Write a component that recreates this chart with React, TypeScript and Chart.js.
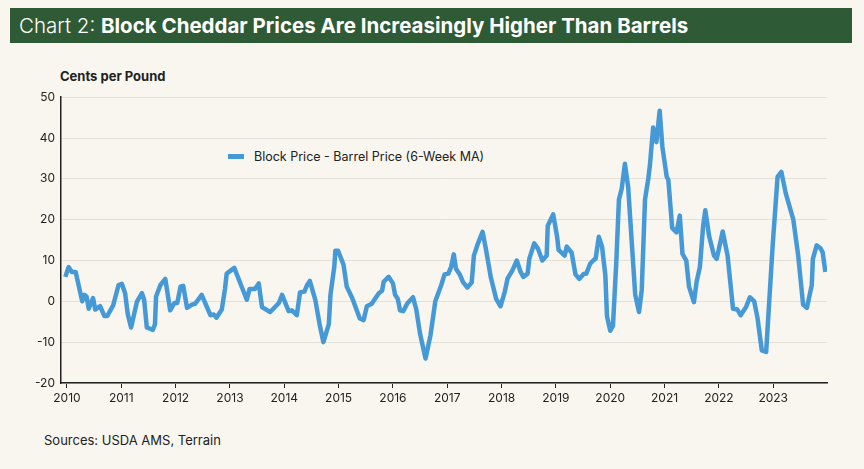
import React, { useEffect, useRef } from "react";
import { Chart, registerables } from "chart.js";
Chart.register(...registerables);

const dates = [2009.97,2010.03,2010.09,2010.16,2010.28,2010.32,2010.36,2010.4,2010.48,2010.52,2010.61,2010.69,2010.74,2010.85,2010.95,2011.01,2011.07,2011.12,2011.18,2011.29,2011.38,2011.42,2011.47,2011.58,2011.62,2011.64,2011.72,2011.81,2011.9,2011.98,2012.03,2012.09,2012.14,2012.21,2012.3,2012.36,2012.48,2012.64,2012.7,2012.75,2012.85,2012.91,2012.94,2013.08,2013.18,2013.31,2013.36,2013.46,2013.53,2013.59,2013.74,2013.9,2013.96,2014.08,2014.14,2014.23,2014.29,2014.37,2014.42,2014.47,2014.57,2014.65,2014.72,2014.82,2014.85,2014.92,2014.94,2014.99,2015.09,2015.15,2015.25,2015.39,2015.46,2015.52,2015.61,2015.64,2015.74,2015.8,2015.83,2015.92,2016.0,2016.04,2016.09,2016.13,2016.19,2016.27,2016.37,2016.43,2016.5,2016.6,2016.69,2016.78,2016.89,2016.95,2017.02,2017.07,2017.12,2017.16,2017.23,2017.29,2017.37,2017.45,2017.49,2017.56,2017.65,2017.71,2017.8,2017.9,2017.98,2018.06,2018.11,2018.2,2018.28,2018.35,2018.4,2018.48,2018.51,2018.6,2018.67,2018.75,2018.83,2018.85,2018.95,2019.02,2019.05,2019.16,2019.2,2019.29,2019.36,2019.43,2019.51,2019.56,2019.63,2019.7,2019.73,2019.79,2019.85,2019.91,2019.94,2020.0,2020.05,2020.11,2020.16,2020.21,2020.27,2020.33,2020.4,2020.46,2020.53,2020.58,2020.64,2020.7,2020.73,2020.79,2020.85,2020.91,2020.96,2021.04,2021.07,2021.14,2021.22,2021.28,2021.33,2021.4,2021.45,2021.54,2021.59,2021.65,2021.71,2021.75,2021.82,2021.91,2021.96,2022.07,2022.16,2022.26,2022.34,2022.4,2022.5,2022.57,2022.65,2022.71,2022.79,2022.87,2022.99,2023.08,2023.15,2023.23,2023.37,2023.46,2023.55,2023.62,2023.71,2023.73,2023.8,2023.87,2023.91,2023.96];
const spread = [6,8.4,7.2,7.2,0,1.6,1.2,-1.8,0.8,-2,-1.2,-3.6,-3.6,-1,4,4.3,2,-3.2,-6.4,0,2,0.4,-6.4,-7,-5.6,1.2,4,5.5,-2.2,-0.4,-0.4,3.6,3.8,-1.6,-0.8,-0.6,1.6,-3.4,-3.2,-4,-2,3.2,6.8,8.2,4.8,0.4,3,3,4.4,-1.4,-2.6,-0.4,1.6,-2.4,-2.2,-3.4,2.2,2.4,4,5,0.4,-5.6,-10,-5.6,1.6,8.4,12.4,12.4,9,3.6,0.8,-4.2,-4.6,-1.2,-0.6,0,2,2.6,4.8,6,4.4,1.6,0.6,-2.2,-2.4,-0.4,1,-2,-8,-14,-8.4,0,4,6.6,6.8,8.4,11.5,8,6.6,4.7,3.4,4.6,11.2,14,17,12.9,6,0.6,-1.2,2.4,5.6,7.6,10,7.2,6,6.8,10.4,14.2,12.9,10,11.2,18.5,21.3,16,12.6,11.2,13.4,11.9,6.6,5.5,6.7,6.8,9.2,10.2,10.4,15.8,13.3,6.4,-3.6,-7.2,-6,9.2,24.9,27.5,33.7,28,13.7,1.6,-2.6,2.8,24.9,30,33.3,42.6,39,46.7,37.8,30.5,29.7,18,16.9,21,11.6,10,3.6,-0.2,4.8,8.4,18.5,22.3,16,11.2,10.4,17.1,11.2,-1.8,-2,-3.4,-1.4,1,0,-4,-12,-12.4,13.7,30.5,31.7,26.5,20,11.2,-0.8,-1.6,4,10.4,13.7,13,12,7.2];
const yearTicks = [2010,2011,2012,2013,2014,2015,2016,2017,2018,2019,2020,2021,2022,2023];
const yTicks = [-20,-10,0,10,20,30,40,50];
const seriesLabel = "Block Price - Barrel Price (6-Week MA)";

const FONT = "Inter, 'Noto Sans', sans-serif";
const BLUE = "#4599d6";

export default function App() {
  const ref = useRef<HTMLCanvasElement>(null);
  useEffect(() => {
    const chart = new Chart(ref.current!, {
      type: "line",
      data: {
        datasets: [{
          label: seriesLabel,
          data: dates.map((d, i) => ({ x: d, y: spread[i] })),
          borderColor: BLUE,
          backgroundColor: BLUE,
          borderWidth: 4.5,
          pointRadius: 0,
          tension: 0,
          borderJoinStyle: "round",
        }],
      },
      options: {
        animation: false,
        responsive: false,
        layout: { padding: { top: 8, right: 37, left: 0, bottom: 0 } },
        plugins: { legend: { display: false }, tooltip: { enabled: false } },
        scales: {
          x: {
            type: "linear",
            min: 2009.89,
            max: 2023.99,
            afterBuildTicks: (s: any) => { s.ticks = yearTicks.map((v) => ({ value: v })); },
            afterFit: (s: any) => { s.height = 31; },
            ticks: { color: "#222", font: { family: FONT, size: 12 }, padding: 3, callback: (v: any) => String(v), maxRotation: 0, autoSkip: false },
            grid: { drawOnChartArea: false, drawTicks: true, tickLength: 5, color: "#222" },
            border: { color: "#222", width: 1.5 },
          },
          y: {
            min: -20,
            max: 50,
            afterBuildTicks: (s: any) => { s.ticks = yTicks.map((v) => ({ value: v })); },
            afterFit: (s: any) => { s.width = 61; },
            ticks: { color: "#222", font: { family: FONT, size: 12 }, padding: 6 },
            grid: { color: "#e3e0d8", drawTicks: false, lineWidth: 1 },
            border: { color: "#222", width: 1.5 },
          },
        },
      },
    });
    return () => chart.destroy();
  }, []);
  return (
    <div style={{ position: "absolute", left: 0, top: 0, width: 864, height: 469, background: "#f9f6ef", fontFamily: FONT, overflow: "hidden" }}>
      <div style={{ position: "absolute", left: 10, top: 8, width: 842, height: 35, background: "#2f5a36", color: "#fff", fontSize: 20.5, lineHeight: "35px", paddingLeft: 9, boxSizing: "border-box", whiteSpace: "nowrap" }}>
        <span style={{ fontWeight: 300 }}>Chart 2: </span><span style={{ fontWeight: 700 }}>Block Cheddar Prices Are Increasingly Higher Than Barrels</span>
      </div>
      <div style={{ position: "absolute", left: 60, top: 68, fontSize: 13, fontWeight: 700, color: "#222" }}>Cents per Pound</div>
      <div style={{ position: "absolute", left: 228, top: 149, fontSize: 12.5, color: "#222", display: "flex", alignItems: "center", whiteSpace: "nowrap" }}>
        <span style={{ display: "inline-block", width: 16, height: 5, background: BLUE, marginRight: 10 }} />
        {seriesLabel}
      </div>
      <canvas ref={ref} width={864} height={330} style={{ position: "absolute", left: 0, top: 84, width: 864, height: 330 }} />
      <div style={{ position: "absolute", left: 44, top: 432, fontSize: 13, color: "#222" }}>Sources: USDA AMS, Terrain</div>
    </div>
  );
}
